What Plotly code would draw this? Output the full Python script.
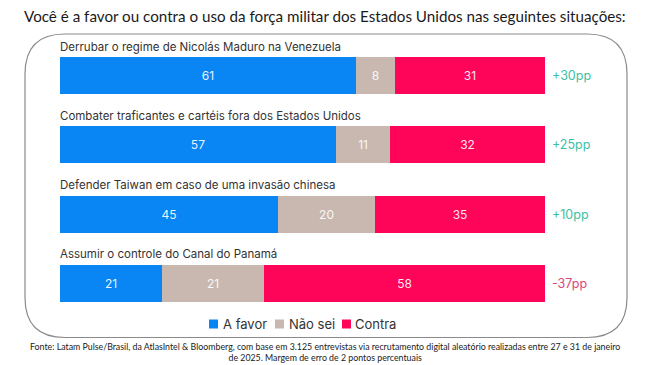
import plotly.graph_objects as go

categories = [
    "Derrubar o regime de Nicolás Maduro na Venezuela",
    "Combater traficantes e cartéis fora dos Estados Unidos",
    "Defender Taiwan em caso de uma invasão chinesa",
    "Assumir o controle do Canal do Panamá",
]
a_favor = [61, 57, 45, 21]
nao_sei = [8, 11, 20, 21]
contra = [31, 32, 35, 58]
diff_labels = ["+30pp", "+25pp", "+10pp", "-37pp"]

series_names = ["A favor", "Não sei", "Contra"]
colors = ["#0a86f4", "#c8b8b0", "#fe0559"]
pos_color = "#3bbfa6"
neg_color = "#d9467a"

title = "Você é a favor ou contra o uso da força militar dos Estados Unidos nas seguintes situações:"
footnote = ("Fonte: Latam Pulse/Brasil, da AtlasIntel &amp; Bloomberg, com base em 3.125 entrevistas via recrutamento digital aleatório realizadas entre 27 e 31 de janeiro"
            "<br>de 2025. Margem de erro de 2 pontos percentuais")

# page-pixel helpers (page has an 8px body margin)
PL, PR, PT, PB = 60, 545, 41, 318
def xp(px):
    return (px - PL) / (PR - PL)
def yp(py):
    return (PB - py) / (PB - PT)

ypos = list(range(len(categories)))

fig = go.Figure()
for name, vals, col in zip(series_names, [a_favor, nao_sei, contra], colors):
    fig.add_trace(go.Bar(
        y=ypos, x=vals, name=name, orientation="h",
        marker=dict(color=col, line=dict(width=0)),
        width=0.535,
        text=[str(v) for v in vals],
        textposition="inside", insidetextanchor="middle",
        constraintext="none", textangle=0,
        textfont=dict(color="rgba(255,255,255,0.92)", size=12, family="Inter"),
        hoverinfo="skip", showlegend=False,
    ))

annotations = []
for i, cat in enumerate(categories):
    annotations.append(dict(
        x=0, y=i - 0.42, xref="x", yref="y", text=cat, showarrow=False,
        xanchor="left", yanchor="middle", xshift=-2,
        font=dict(family="Inter", size=11.5, color="#333333"),
    ))
    d = diff_labels[i]
    annotations.append(dict(
        x=100, y=i, xref="x", yref="y", text=d, showarrow=False,
        xanchor="left", yanchor="middle", xshift=5,
        font=dict(family="Inter", size=12.5, color=neg_color if d.startswith("-") else pos_color),
    ))

annotations.append(dict(
    x=xp(325), y=yp(16), xref="paper", yref="paper", text=title, showarrow=False,
    xanchor="center", yanchor="middle",
    font=dict(family="Lato", size=15.2, color="#1a1a1a"),
))
annotations.append(dict(
    x=xp(325), y=yp(351.5), xref="paper", yref="paper", text=footnote, showarrow=False,
    xanchor="center", yanchor="middle", align="center",
    font=dict(family="Lato", size=8.8, color="#1a1a1a"),
))

# manual legend
shapes = []
legend_sq_x = [209, 275, 342]
legend_tx_x = [221, 287, 353]
for name, col, sx, tx in zip(series_names, colors, legend_sq_x, legend_tx_x):
    shapes.append(dict(type="rect", xref="paper", yref="paper",
                       x0=xp(sx), x1=xp(sx + 9), y0=yp(328.5), y1=yp(319.5),
                       fillcolor=col, line=dict(width=0)))
    annotations.append(dict(
        x=xp(tx), y=yp(324), xref="paper", yref="paper", text=name, showarrow=False,
        xanchor="left", yanchor="middle",
        font=dict(family="Inter", size=13, color="#333333"),
    ))

# rounded container box
x0, x1 = xp(25), xp(627)
y0, y1 = yp(337.5), yp(34)
rx, ry = 40 / (PR - PL), 40 / (PB - PT)
path = (f"M {x0+rx},{y1} L {x1-rx},{y1} Q {x1},{y1} {x1},{y1-ry} "
        f"L {x1},{y0+ry} Q {x1},{y0} {x1-rx},{y0} "
        f"L {x0+rx},{y0} Q {x0},{y0} {x0},{y0+ry} "
        f"L {x0},{y1-ry} Q {x0},{y1} {x0+rx},{y1} Z")
shapes.append(dict(type="path", path=path, xref="paper", yref="paper",
                   line=dict(color="#8a8a8a", width=1.2), fillcolor="rgba(0,0,0,0)", layer="below"))

fig.update_layout(
    barmode="stack",
    width=642, height=357,
    margin=dict(l=PL - 8, r=642 - (PR - 8), t=PT - 8, b=357 - (PB - 8)),
    paper_bgcolor="white", plot_bgcolor="white",
    xaxis=dict(range=[0, 100], visible=False, fixedrange=True),
    yaxis=dict(range=[3.5, -0.5], visible=False, fixedrange=True),
    showlegend=False,
    annotations=annotations,
    shapes=shapes,
    bargap=0,
)

fig.write_html("out.html")
